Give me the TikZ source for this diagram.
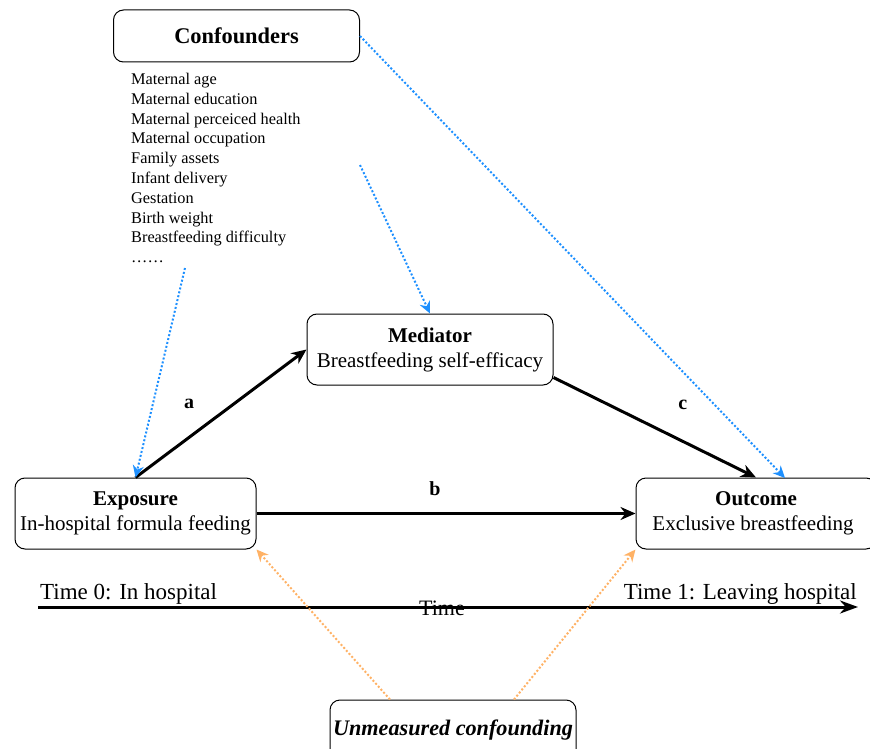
\documentclass[tikz,border=0pt]{standalone}
\usepackage{fontspec}
\setmainfont{Liberation Serif}
\usepackage{xcolor}
\usetikzlibrary{shapes,calc,positioning,arrows.meta}
\definecolor{confblue}{RGB}{30,144,255}
\definecolor{unmorange}{RGB}{255,178,102}

\begin{document}
\begin{tikzpicture}[x=1pt,y=-1pt]
  \tikzset{ box/.style={draw,rounded corners=10pt,line width=1pt,align=center,minimum width=246pt,minimum height=71pt,inner sep=2pt,font=\fontsize{21}{25}\selectfont},
    path/.style={line width=3pt,-{Stealth[length=15pt,width=13pt]}},
    conf/.style={confblue,line width=2pt,dash pattern=on 2pt off 2pt,-{Stealth[length=12pt,width=11pt]}},
    unm/.style={unmorange,line width=2pt,dash pattern=on 2pt off 2pt,-{Stealth[length=12pt,width=11pt]}},
    lab/.style={font=\fontsize{20}{24}\selectfont\bfseries},
  }
  \useasboundingbox (0,0) rectangle (870,749);
  \node[box,minimum height=52pt,font=\fontsize{22.4}{26}\selectfont\bfseries] (conf) at (236.5,36) {Confounders};
  \node[anchor=north west,inner sep=0pt,align=left,font=\fontsize{16.3}{19.8}\selectfont] (clist) at (131,73)
    {Maternal age\\Maternal education\\Maternal perceiced health\\Maternal occupation\\Family assets\\Infant delivery\\Gestation\\Birth weight\\Breastfeeding difficulty\\\ldots\ldots};
  \node[box] (med) at (430,349.5) {\textbf{Mediator}\\Breastfeeding self-efficacy};
  \node[box,minimum width=241pt] (expo) at (135.5,513.5) {\textbf{Exposure}\\In-hospital formula feeding};
  \node[box,minimum width=240pt] (outc) at (756,513.5) {\textbf{Outcome}\\Exclusive breastfeeding\hspace*{6pt}};
  \node[box,minimum height=60pt,font=\fontsize{22.2}{26}\selectfont\bfseries\itshape] (unm) at (453,730) {Unmeasured confounding};

  % time axis
  \coordinate (tl) at (38,607);
  \coordinate (tr) at (858,607);
  \draw[line width=3pt,-{Stealth[length=18pt,width=13pt]}] (tl) -- (tr) node[midway,font=\fontsize{22}{26}\selectfont,xshift=-6pt,yshift=-1pt] (time) {Time};
  \node[anchor=base west,inner sep=0pt,font=\fontsize{23}{27}\selectfont] (t0) at (40,599) {Time 0: In hospital};
  \node[anchor=base east,inner sep=0pt,font=\fontsize{23}{27}\selectfont] (t1) at (857,599) {Time 1: Leaving hospital};

  % causal paths
  \draw[path] (expo.north) -- (med.west) node[midway,lab,xshift=-32pt,yshift=10pt] {a};
  \draw[path] (med.east) ++(0,28) coordinate (ms) (ms) -- (outc.north) node[midway,lab,xshift=28pt,yshift=23pt] {c};
  \draw[path] (expo) -- (outc) node[midway,lab,xshift=-11pt,yshift=25pt] {b};

  % confounders
  \coordinate (c1) at (185,268);
  \coordinate (c2) at (360,165);
  \coordinate (c3) at (785,478);
  \draw[conf] (c1) -- (expo.north);
  \draw[conf] (c2) -- (med.north);
  \draw[conf] (conf.east) -- (c3);

  % unmeasured
  \draw[unm] ($(unm.north)+(-63,0)$) -- (expo.south east);
  \draw[unm] ($(unm.north)+(61,0)$) -- (outc.south west);
\end{tikzpicture}
\end{document}
